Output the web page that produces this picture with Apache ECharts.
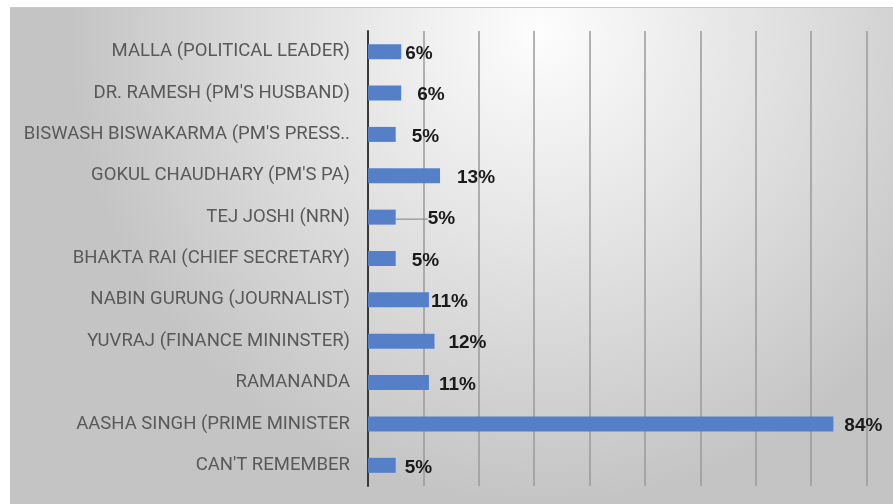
<!DOCTYPE html>
<html>
<head>
<meta charset="utf-8">
<script src="https://cdn.jsdelivr.net/npm/echarts@6/dist/echarts.min.js"></script>
<style>
  html, body { margin: 0; padding: 0; background: #fff; }
  #barChart { width: 893px; height: 504px; }
</style>
</head>
<body>
<div id="barChart"></div>
<script>
const categories = [
  "MALLA (POLITICAL LEADER)",
  "DR. RAMESH (PM'S HUSBAND)",
  "BISWASH BISWAKARMA (PM'S PRESS..",
  "GOKUL CHAUDHARY (PM'S PA)",
  "TEJ JOSHI (NRN)",
  "BHAKTA RAI (CHIEF SECRETARY)",
  "NABIN GURUNG (JOURNALIST)",
  "YUVRAJ (FINANCE MININSTER)",
  "RAMANANDA",
  "AASHA SINGH (PRIME MINISTER",
  "CAN'T REMEMBER",
];
const percentValues = [6, 6, 5, 13, 5, 5, 11, 12, 11, 84, 5];

// labels were nudged by hand in the original, keep those shifts
const labelShift = [-1, 11, 11, 12, 27, 11, -3, 9, 5, 6, 4];

const chart = echarts.init(document.getElementById("barChart"));

const option = {
  animation: false,
  graphic: [
    {
      type: "rect",
      z: -10,
      silent: true,
      shape: { x: 10, y: 7, width: 883, height: 497 },
      style: {
        fill: new echarts.graphic.RadialGradient(0.6, 0.05, 0.95, [
          { offset: 0, color: "#fdfdfd" },
          { offset: 0.45, color: "#e4e4e4" },
          { offset: 1, color: "#c4c4c4" },
        ]),
      },
    },
    {
      type: "line",
      z: -9,
      silent: true,
      shape: { x1: 10, y1: 7.5, x2: 893, y2: 7.5 },
      style: { stroke: "#c8c8c8", lineWidth: 1 },
    },
  ],
  grid: {
    left: 368,
    top: 31,
    bottom: 18,
    width: 554,
    outerBoundsMode: "none",
  },
  xAxis: {
    type: "value",
    min: 0,
    max: 100,
    interval: 10,
    axisLabel: { show: false },
    axisTick: { show: false },
    axisLine: { show: false },
    splitLine: { lineStyle: { color: "#9a9a9a", width: 1.5 } },
  },
  yAxis: {
    type: "category",
    inverse: true,
    data: categories,
    axisTick: { show: false },
    axisLine: { lineStyle: { color: "#3a3a3a", width: 2 } },
    axisLabel: {
      color: "#595959",
      fontFamily: "Roboto",
      fontSize: 18.5,
      margin: 18,
    },
  },
  series: [
    {
      type: "bar",
      barWidth: 15,
      data: percentValues.map((v, i) => ({
        value: v,
        labelLine: { show: i === 4 },
      })),
      itemStyle: { color: "#5580c8" },
      label: {
        show: true,
        position: "right",
        distance: 5,
        formatter: "{c}%",
        color: "#1a1a1a",
        fontWeight: "bold",
        fontFamily: "Liberation Sans",
        fontSize: 19,
      },
      labelLayout: (params) => ({ dx: labelShift[params.dataIndex], dy: 2 }),
      labelLine: {
        show: false,
        lineStyle: { color: "#7f7f7f", width: 1 },
      },
    },
  ],
};

chart.setOption(option);
</script>
</body>
</html>
